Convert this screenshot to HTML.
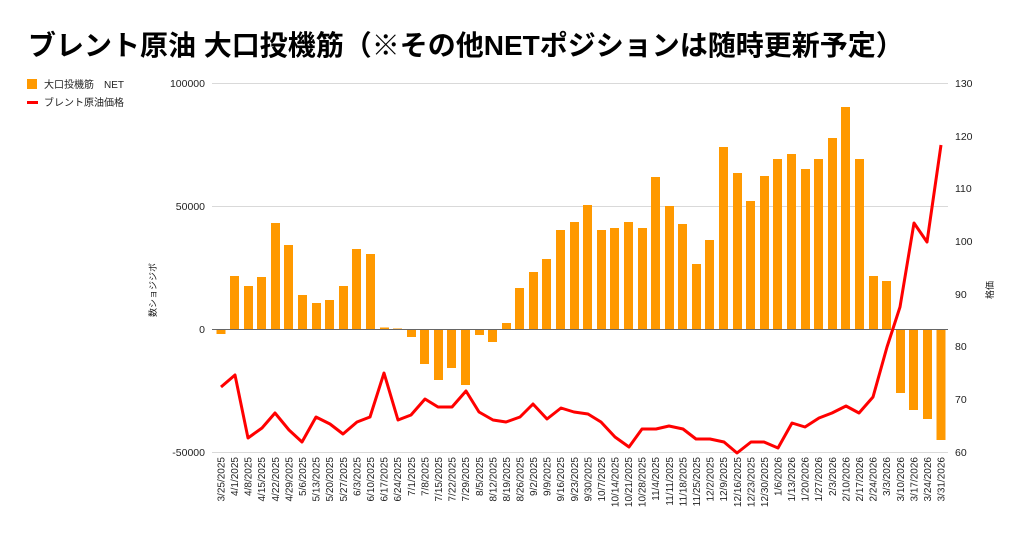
<!DOCTYPE html>
<html><head><meta charset="utf-8"><style>
html,body{margin:0;padding:0;background:#fff;}
svg{display:block;font-family:"Liberation Sans","Noto Sans CJK JP",sans-serif;}
</style></head><body>
<svg width="1024" height="535" viewBox="0 0 1024 535" xmlns="http://www.w3.org/2000/svg">
<text x="28" y="55" font-size="28" font-weight="bold" fill="#000">ブレント原油 大口投機筋（※その他NETポジションは随時更新予定）</text>
<rect x="27" y="79" width="10" height="10" fill="#ff9900"/>
<text x="44" y="88" font-size="10" fill="#222">大口投機筋　NET</text>
<rect x="27" y="101" width="11" height="3" fill="#ff0000"/>
<text x="44" y="106" font-size="10" fill="#222">ブレント原油価格</text>
<g stroke="#d9d9d9" stroke-width="1">
<line x1="212" y1="83.5" x2="948" y2="83.5"/>
<line x1="212" y1="206.5" x2="948" y2="206.5"/>
<line x1="212" y1="452.5" x2="948" y2="452.5"/>
</g>
<g font-size="10.5" fill="#222" text-anchor="end">
<text x="205" y="87">100000</text><text x="205" y="210">50000</text><text x="205" y="333">0</text><text x="205" y="456">-50000</text>
</g>
<g font-size="10.5" fill="#222">
<text x="955" y="87">130</text><text x="955" y="140">120</text><text x="955" y="192">110</text><text x="955" y="245">100</text><text x="955" y="298">90</text><text x="955" y="350">80</text><text x="955" y="403">70</text><text x="955" y="456">60</text>
</g>
<text transform="translate(156,290) rotate(-90)" font-size="9" fill="#222" text-anchor="middle">数ショジジボ</text>
<text transform="translate(993,290) rotate(-90)" font-size="9" fill="#222" text-anchor="middle">格価</text>
<g fill="#ff9900">
<rect x="216.5" y="329" width="9" height="5"/>
<rect x="230" y="276" width="9" height="53"/>
<rect x="244" y="286" width="9" height="43"/>
<rect x="257" y="277" width="9" height="52"/>
<rect x="271" y="223" width="9" height="106"/>
<rect x="284" y="245" width="9" height="84"/>
<rect x="298" y="295" width="9" height="34"/>
<rect x="312" y="303" width="9" height="26"/>
<rect x="325" y="300" width="9" height="29"/>
<rect x="339" y="286" width="9" height="43"/>
<rect x="352" y="249" width="9" height="80"/>
<rect x="366" y="254" width="9" height="75"/>
<rect x="380" y="327.5" width="9" height="1.5"/>
<rect x="393" y="328.5" width="9" height="0.5"/>
<rect x="407" y="329" width="9" height="8"/>
<rect x="420" y="329" width="9" height="35"/>
<rect x="434" y="329" width="9" height="51"/>
<rect x="447" y="329" width="9" height="39"/>
<rect x="461" y="329" width="9" height="56"/>
<rect x="475" y="329" width="9" height="6"/>
<rect x="488" y="329" width="9" height="13"/>
<rect x="502" y="323" width="9" height="6"/>
<rect x="515" y="288" width="9" height="41"/>
<rect x="529" y="272" width="9" height="57"/>
<rect x="542" y="259" width="9" height="70"/>
<rect x="556" y="230" width="9" height="99"/>
<rect x="570" y="222" width="9" height="107"/>
<rect x="583" y="205" width="9" height="124"/>
<rect x="597" y="230" width="9" height="99"/>
<rect x="610" y="228" width="9" height="101"/>
<rect x="624" y="222" width="9" height="107"/>
<rect x="638" y="228" width="9" height="101"/>
<rect x="651" y="177" width="9" height="152"/>
<rect x="665" y="206" width="9" height="123"/>
<rect x="678" y="224" width="9" height="105"/>
<rect x="692" y="264" width="9" height="65"/>
<rect x="705" y="240" width="9" height="89"/>
<rect x="719" y="147" width="9" height="182"/>
<rect x="733" y="173" width="9" height="156"/>
<rect x="746" y="201" width="9" height="128"/>
<rect x="760" y="176" width="9" height="153"/>
<rect x="773" y="159" width="9" height="170"/>
<rect x="787" y="154" width="9" height="175"/>
<rect x="801" y="169" width="9" height="160"/>
<rect x="814" y="159" width="9" height="170"/>
<rect x="828" y="138" width="9" height="191"/>
<rect x="841" y="107" width="9" height="222"/>
<rect x="855" y="159" width="9" height="170"/>
<rect x="869" y="276" width="9" height="53"/>
<rect x="882" y="281" width="9" height="48"/>
<rect x="896" y="329" width="9" height="64"/>
<rect x="909" y="329" width="9" height="81"/>
<rect x="923" y="329" width="9" height="90"/>
<rect x="936.5" y="329" width="9" height="111"/>
</g>
<line x1="212" y1="329.5" x2="948" y2="329.5" stroke="#666" stroke-width="1"/>
<polyline fill="none" stroke="#ff0000" stroke-width="3" stroke-linejoin="round" points="221,387 235,375 248,438 262,428 275,413 289,430 302,442 316,417 330,424 343,434 357,422 370,417 384,373 398,420 411,415 425,399 438,407 452,407 466,391 479,412 493,420 506,422 520,417 533,404 547,419 561,408 574,412 588,414 601,422 615,437 629,447 642,429 656,429 669,426 683,429 696,439 710,439 724,442 737,453 751,442 764,442 778,448 792,423 805,427 819,418 832,413 846,406 859,413 873,397 887,347 900,307 914,223 927,242 941,145"/>
<g font-size="10" fill="#222" text-anchor="end">
<text transform="translate(224.5,457) rotate(-90)">3/25/2025</text>
<text transform="translate(238,457) rotate(-90)">4/1/2025</text>
<text transform="translate(251.5,457) rotate(-90)">4/8/2025</text>
<text transform="translate(265,457) rotate(-90)">4/15/2025</text>
<text transform="translate(279,457) rotate(-90)">4/22/2025</text>
<text transform="translate(292.5,457) rotate(-90)">4/29/2025</text>
<text transform="translate(306,457) rotate(-90)">5/6/2025</text>
<text transform="translate(319.5,457) rotate(-90)">5/13/2025</text>
<text transform="translate(333,457) rotate(-90)">5/20/2025</text>
<text transform="translate(347,457) rotate(-90)">5/27/2025</text>
<text transform="translate(360.5,457) rotate(-90)">6/3/2025</text>
<text transform="translate(374,457) rotate(-90)">6/10/2025</text>
<text transform="translate(387.5,457) rotate(-90)">6/17/2025</text>
<text transform="translate(401,457) rotate(-90)">6/24/2025</text>
<text transform="translate(415,457) rotate(-90)">7/1/2025</text>
<text transform="translate(428.5,457) rotate(-90)">7/8/2025</text>
<text transform="translate(442,457) rotate(-90)">7/15/2025</text>
<text transform="translate(455.5,457) rotate(-90)">7/22/2025</text>
<text transform="translate(469,457) rotate(-90)">7/29/2025</text>
<text transform="translate(483,457) rotate(-90)">8/5/2025</text>
<text transform="translate(496.5,457) rotate(-90)">8/12/2025</text>
<text transform="translate(510,457) rotate(-90)">8/19/2025</text>
<text transform="translate(523.5,457) rotate(-90)">8/26/2025</text>
<text transform="translate(537,457) rotate(-90)">9/2/2025</text>
<text transform="translate(550.5,457) rotate(-90)">9/9/2025</text>
<text transform="translate(564,457) rotate(-90)">9/16/2025</text>
<text transform="translate(578,457) rotate(-90)">9/23/2025</text>
<text transform="translate(591.5,457) rotate(-90)">9/30/2025</text>
<text transform="translate(605,457) rotate(-90)">10/7/2025</text>
<text transform="translate(618.5,457) rotate(-90)">10/14/2025</text>
<text transform="translate(632,457) rotate(-90)">10/21/2025</text>
<text transform="translate(645.5,457) rotate(-90)">10/28/2025</text>
<text transform="translate(659,457) rotate(-90)">11/4/2025</text>
<text transform="translate(673,457) rotate(-90)">11/11/2025</text>
<text transform="translate(686.5,457) rotate(-90)">11/18/2025</text>
<text transform="translate(700,457) rotate(-90)">11/25/2025</text>
<text transform="translate(713.5,457) rotate(-90)">12/2/2025</text>
<text transform="translate(727,457) rotate(-90)">12/9/2025</text>
<text transform="translate(741,457) rotate(-90)">12/16/2025</text>
<text transform="translate(754.5,457) rotate(-90)">12/23/2025</text>
<text transform="translate(768,457) rotate(-90)">12/30/2025</text>
<text transform="translate(781.5,457) rotate(-90)">1/6/2026</text>
<text transform="translate(795,457) rotate(-90)">1/13/2026</text>
<text transform="translate(808.5,457) rotate(-90)">1/20/2026</text>
<text transform="translate(822,457) rotate(-90)">1/27/2026</text>
<text transform="translate(836,457) rotate(-90)">2/3/2026</text>
<text transform="translate(849.5,457) rotate(-90)">2/10/2026</text>
<text transform="translate(863,457) rotate(-90)">2/17/2026</text>
<text transform="translate(876.5,457) rotate(-90)">2/24/2026</text>
<text transform="translate(890,457) rotate(-90)">3/3/2026</text>
<text transform="translate(904,457) rotate(-90)">3/10/2026</text>
<text transform="translate(917.5,457) rotate(-90)">3/17/2026</text>
<text transform="translate(931,457) rotate(-90)">3/24/2026</text>
<text transform="translate(944.5,457) rotate(-90)">3/31/2026</text>
</g>
</svg>
</body></html>
